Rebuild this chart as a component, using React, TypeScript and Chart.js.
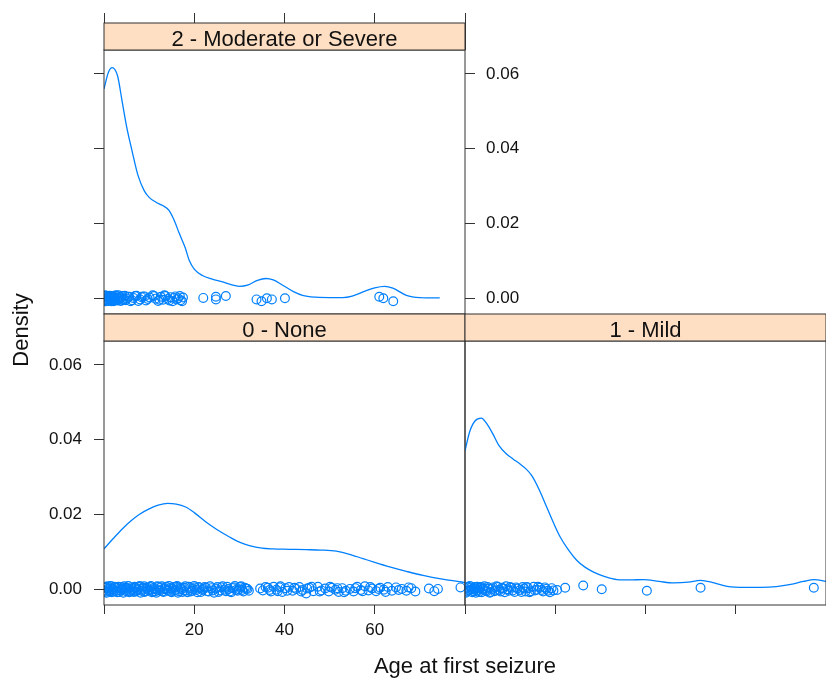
import React, { useEffect, useRef } from 'react';
import { Chart, registerables } from 'chart.js';

Chart.register(...registerables);

// ---------- data ----------
const PANEL_LABELS = ['2 - Moderate or Severe', '0 - None', '1 - Mild'];
const X_TITLE = 'Age at first seizure';
const Y_TITLE = 'Density';

const X_TICKS = [0, 20, 40, 60, 80];
const X_TICK_LABELS = ['', '20', '40', '60', ''];
const Y_TICKS = [0, 0.02, 0.04, 0.06];
const Y_TICK_LABELS = ['0.00', '0.02', '0.04', '0.06'];
const X_MIN = 0;
const X_MAX = 80;
const Y_MIN = -0.0042;
const Y_MAX = 0.0664;

// density curves [age, density]
const moderateCurve: [number, number][] = [
  [0, 0.056], [1, 0.0605], [1.8, 0.0617], [3, 0.0595], [4, 0.0528], [5, 0.046], [6.2, 0.0395],
  [7.5, 0.033], [8.9, 0.0288], [10, 0.027], [11.5, 0.0257], [13, 0.0248], [14.4, 0.0235],
  [15.5, 0.021], [16.7, 0.0173], [18, 0.0135], [18.9, 0.0101], [20, 0.0078], [21.8, 0.0061],
  [24, 0.0051], [26.3, 0.0044], [28, 0.0037], [30, 0.0032], [32, 0.0036], [34, 0.0048],
  [35.9, 0.0053], [37.5, 0.0049], [39.6, 0.0035], [42, 0.0018], [44, 0.0008], [47, 0.0003],
  [50, 0.0002], [52.9, 0.0002], [55, 0.0006], [57.4, 0.0017], [60, 0.0028], [62.2, 0.0032],
  [64, 0.0027], [67, 0.0008], [70, 0.0002], [74.4, 0.0001],
];
const noneCurve: [number, number][] = [
  [0, 0.0108], [2, 0.0135], [4.1, 0.0162], [6, 0.0183], [7.8, 0.02], [10, 0.0215], [12, 0.0225],
  [14.1, 0.023], [16, 0.0228], [18.1, 0.022], [20, 0.0205], [22.6, 0.018], [25, 0.016],
  [27.8, 0.014], [30, 0.0126], [32.2, 0.0117], [35, 0.011], [37.4, 0.0108], [41, 0.0107],
  [44.8, 0.0106], [48, 0.0105], [51.5, 0.0102], [54, 0.0095], [57.4, 0.0082], [60, 0.0072],
  [63.3, 0.006], [67, 0.0048], [70.7, 0.0037], [75, 0.0027], [80, 0.0018],
];
const mildCurve: [number, number][] = [
  [0, 0.037], [1, 0.042], [2.2, 0.045], [3.6, 0.0458], [5, 0.044], [6.2, 0.0415], [7.5, 0.0385],
  [9.2, 0.0362], [10.7, 0.0348], [12.2, 0.0335], [13.5, 0.0322], [14.8, 0.0304], [16.5, 0.0265],
  [18.1, 0.022], [19.6, 0.0178], [21.1, 0.014], [23, 0.0104], [24.8, 0.0077], [26.5, 0.006],
  [28.5, 0.0046], [31, 0.0034], [33.7, 0.0026], [36.5, 0.0025], [39.6, 0.0026], [43, 0.0021],
  [46.3, 0.0017], [49.5, 0.0019], [52.2, 0.0024], [55, 0.0018], [58.1, 0.0008], [62, 0.0005],
  [65.6, 0.0005], [69, 0.0007], [72.2, 0.0013], [75, 0.0021], [77.4, 0.0026], [80, 0.0021],
];

// observations [age, jittered height]
const moderatePoints: [number, number][] = [
  [0.1, 0.0003], [0.3, -0.0005], [0.5, 0.0007], [0.6, -0.0002], [0.8, 0.0001], [1.0, -0.0007],
  [1.1, 0.0004], [1.3, -0.0003], [1.5, 0.0006], [1.6, -0.0008], [1.8, 0.0002], [2.0, -0.0001],
  [2.2, 0.0005], [2.4, -0.0006], [2.6, 0.0008], [2.9, -0.0004], [3.1, 0.0], [3.4, 0.0003],
  [3.7, -0.0007], [4.0, 0.0006], [4.4, -0.0002], [4.8, -0.0005], [5.3, 0.0004], [5.9, -0.0008],
  [6.5, 0.0001], [7.2, 0.0007], [8.0, -0.0003], [8.6, 0.0005], [9.3, -0.0006], [10.1, 0.0002],
  [10.8, 0.0008], [11.4, -0.0001], [12.0, -0.0007], [12.6, 0.0004], [13.1, -0.0004], [13.6, 0.0006],
  [14.2, -0.0002], [14.7, 0.0003], [15.2, -0.0008], [15.8, 0.0005], [16.4, 0.0], [17.0, -0.0005],
  [17.5, 0.0002], [22.0, 0.0001], [24.8, 0.0004], [24.8, -0.0003], [27.0, 0.0006], [33.8, -0.0003],
  [34.9, -0.0008], [36.1, 0.0], [37.2, -0.0003], [40.1, 0.0], [61.0, 0.0004], [61.9, 0.0],
  [64.1, -0.0008],
  [0.2, 0.0008], [0.4, -0.0008], [0.7, 0.0004], [0.9, -0.0004], [1.2, 0.0007], [1.4, 0.0],
  [1.7, -0.0005], [1.9, 0.0004], [2.1, -0.0008], [2.3, 0.0002], [2.5, -0.0003], [2.7, 0.0006],
  [3.0, -0.0006], [3.2, 0.0008], [3.5, -0.0002], [3.8, 0.0003], [4.2, -0.0005], [4.6, 0.0007],
  [5.0, -0.0001], [5.6, 0.0004], [6.2, -0.0005], [6.9, 0.0006], [7.6, -0.0007], [8.3, 0.0003],
  [9.0, 0.0005], [9.7, -0.0002], [11.1, 0.0006], [12.3, -0.0004], [13.4, 0.0008], [14.5, -0.0006],
  [15.5, 0.0001], [16.1, -0.0003], [16.8, 0.0006], [17.3, -0.0008],
];
const nonePoints: [number, number][] = [
  [0.2, 0.0004], [0.5, -0.0006], [0.8, 0.0008], [1.1, -0.0002], [1.4, 0.0005], [1.7, -0.0008],
  [2.0, 0.0001], [2.3, 0.0007], [2.7, -0.0004], [3.0, 0.0003], [3.4, -0.0007], [3.8, 0.0006],
  [4.1, -0.0001], [4.5, 0.0008], [4.9, -0.0005], [5.2, 0.0002], [5.6, -0.0008], [6.0, 0.0005],
  [6.4, -0.0003], [6.8, 0.0007], [7.1, -0.0006], [7.5, 0.0001], [7.9, 0.0009], [8.3, -0.0004],
  [8.7, 0.0004], [9.0, -0.0007], [9.4, 0.0002], [9.8, -0.0002], [10.2, 0.0006], [10.6, -0.0008],
  [11.0, 0.0003], [11.4, -0.0005], [11.8, 0.0008], [12.2, -0.0001], [12.6, 0.0005], [13.0, -0.0006],
  [13.4, 0.0], [13.8, 0.0007], [14.2, -0.0004], [14.6, 0.0003], [15.0, -0.0008], [15.4, 0.0006],
  [15.8, -0.0002], [16.2, 0.0009], [16.6, -0.0005], [17.0, 0.0002], [17.4, -0.0007], [17.8, 0.0004],
  [18.3, -0.0003], [18.8, 0.0007], [19.2, -0.0006], [19.7, 0.0001], [20.2, 0.0005], [20.7, -0.0008],
  [21.2, 0.0003], [21.8, -0.0002], [22.3, 0.0006], [22.9, -0.0005], [23.5, 0.0008], [24.1, -0.0003],
  [24.8, 0.0002], [25.4, -0.0007], [26.0, 0.0005], [26.7, -0.0001], [27.3, 0.0007], [27.9, -0.0006],
  [28.5, 0.0003], [29.0, 0.0009], [29.6, -0.0004], [30.1, 0.0006], [30.6, -0.0002], [31.2, 0.0004],
  [31.8, 0.0001], [34.6, 0.0002], [35.2, -0.0003], [36.3, 0.0004], [37.0, -0.0006], [37.6, 0.0007],
  [38.2, -0.0001], [38.9, 0.0005], [39.5, -0.0007], [40.2, 0.0003], [41.0, 0.0006], [41.8, -0.0004],
  [42.6, 0.0001], [43.3, 0.0006], [44.0, -0.0002], [44.8, -0.0011], [45.5, 0.0004], [46.4, -0.0005],
  [47.4, 0.0007], [48.2, -0.0003], [49.0, 0.0002], [49.8, -0.0006], [50.5, 0.0004], [51.3, -0.0001],
  [52.0, -0.0007], [52.8, 0.0003], [53.6, -0.0004], [54.5, 0.0001], [55.3, -0.0006], [56.1, 0.0007],
  [56.9, -0.0002], [57.8, 0.0008], [58.6, -0.0003], [59.4, 0.0002], [60.3, -0.0005], [61.2, 0.0004],
  [62.0, -0.0001], [62.9, 0.0006], [63.8, -0.0004], [64.7, 0.0005], [66.0, 0.0001], [67.0, -0.0004],
  [68.1, 0.0003], [69.0, -0.0006], [72.0, 0.0002], [73.2, -0.0005], [74.0, 0.0001], [79.0, 0.0005],
  [0.1, -0.0003], [0.4, 0.0006], [0.6, -0.0009], [0.9, 0.0002], [1.2, -0.0005], [1.5, 0.0009],
  [1.8, -0.0001], [2.1, -0.0006], [2.5, 0.0005], [2.9, -0.0008], [3.2, 0.0007], [3.6, -0.0003],
  [3.9, 0.0002], [4.3, -0.0009], [4.7, 0.0004], [5.0, -0.0002], [5.4, 0.0009], [5.8, -0.0006],
  [6.2, 0.0001], [6.6, -0.0007], [6.9, 0.0004], [7.3, -0.0002], [7.7, 0.0006], [8.1, -0.0009],
  [8.5, 0.0001], [8.9, 0.0008], [9.2, -0.0005], [9.6, 0.0004], [10.0, -0.0003], [10.4, 0.0009],
  [10.8, -0.0006], [11.2, 0.0], [11.6, -0.0009], [12.0, 0.0006], [12.4, -0.0004], [12.8, 0.0008],
  [13.2, -0.0007], [13.6, 0.0003], [14.0, -0.0001], [14.4, 0.0009], [14.8, -0.0006], [15.2, 0.0002],
  [15.6, -0.0004], [16.0, 0.0007], [16.4, -0.0009], [16.8, 0.0005], [17.2, 0.0], [17.6, -0.0003],
  [18.0, 0.0008], [18.5, -0.0008], [19.0, 0.0003], [19.5, -0.0004], [20.0, 0.0009], [20.5, -0.0002],
  [21.0, 0.0006], [21.5, -0.0007], [22.0, 0.0001], [22.6, 0.0004], [23.2, -0.0006], [23.8, 0.0003],
  [24.4, -0.0009], [25.1, 0.0006], [25.7, -0.0003], [26.3, 0.0008], [27.0, -0.0005], [27.6, 0.0001],
  [28.2, -0.0008], [28.8, 0.0005], [29.3, -0.0002], [29.9, 0.0], [30.4, 0.0008], [30.9, -0.0006],
  [31.5, 0.0002], [32.1, -0.0004], [35.8, 0.0006], [36.7, -0.0002], [38.5, -0.0005], [39.1, 0.0008],
  [40.6, -0.0004], [42.2, 0.0004], [43.7, -0.0006], [45.0, 0.0002], [46.0, 0.0007], [47.8, -0.0006],
  [50.1, 0.0007], [51.7, 0.0003], [53.2, -0.0008], [55.7, 0.0003], [57.3, -0.0005], [59.0, 0.0006],
  [60.8, 0.0001], [62.4, -0.0007], [65.3, -0.0002], [67.5, 0.0005],
];
const mildPoints: [number, number][] = [
  [0.1, 0.0003], [0.4, -0.0006], [0.7, 0.0007], [1.0, -0.0002], [1.3, 0.0005], [1.6, -0.0008],
  [1.9, 0.0001], [2.2, 0.0006], [2.5, -0.0004], [2.8, 0.0003], [3.1, -0.0007], [3.5, 0.0006],
  [3.9, -0.0001], [4.3, 0.0008], [4.7, -0.0005], [5.2, 0.0002], [5.7, -0.0007], [6.2, 0.0005],
  [6.8, -0.0003], [7.3, 0.0006], [7.9, -0.0006], [8.5, 0.0002], [9.1, 0.0008], [9.7, -0.0004],
  [10.3, 0.0004], [11.0, -0.0007], [11.6, 0.0002], [12.2, -0.0002], [12.8, 0.0006], [13.4, -0.0006],
  [14.0, 0.0003], [14.6, -0.0005], [15.2, 0.0007], [15.9, -0.0001], [16.6, 0.0004], [17.3, -0.0006],
  [18.0, 0.0001], [18.8, -0.0008], [19.6, -0.0003], [20.4, -0.0002], [22.2, 0.0004], [26.2, 0.001],
  [30.3, 0.0], [40.3, -0.0004], [52.2, 0.0004], [77.3, 0.0004],
  [0.2, -0.0009], [0.5, 0.0005], [0.8, -0.0003], [1.1, 0.0009], [1.5, 0.0], [1.8, -0.0005],
  [2.1, 0.0003], [2.4, -0.0009], [2.7, 0.0007], [3.0, -0.0002], [3.3, 0.0004], [3.7, -0.0008],
  [4.1, 0.0002], [4.5, -0.0003], [5.0, 0.0006], [5.5, -0.0009], [6.0, 0.0001], [6.5, -0.0005],
  [7.0, 0.0008], [7.6, -0.0002], [8.2, 0.0004], [8.8, -0.0008], [9.4, 0.0], [10.0, 0.0006],
  [10.6, -0.0003], [11.3, 0.0005], [12.5, -0.0007], [13.1, 0.0002], [13.7, 0.0006], [14.3, -0.0008],
  [15.5, -0.0003], [16.2, 0.0007], [17.0, -0.0002], [17.7, 0.0005], [18.4, -0.0004], [19.2, 0.0003],
];

// ---------- styling ----------
const BLUE = '#0080ff';
const AXIS_COLOR = '#333333';
const TEXT_COLOR = '#111111';
const STRIP_BG = '#fedfc3';
const FONT = '"Liberation Sans", Arial, Helvetica, sans-serif';
const W = 826;
const H = 678;
const STRIP_H = 27;

const panelDecor = {
  id: 'panelDecor',
  afterDraw(chart: any, _args: any, opts: any) {
    const { ctx, chartArea: a } = chart;
    ctx.save();
    ctx.strokeStyle = AXIS_COLOR;
    ctx.lineWidth = 1;
    ctx.strokeRect(a.left, a.top, a.right - a.left, a.bottom - a.top);
    ctx.fillStyle = STRIP_BG;
    ctx.fillRect(a.left, a.top - STRIP_H, a.right - a.left, STRIP_H);
    ctx.strokeRect(a.left, a.top - STRIP_H, a.right - a.left, STRIP_H);
    ctx.fillStyle = TEXT_COLOR;
    ctx.font = `22px ${FONT}`;
    ctx.textAlign = 'center';
    ctx.textBaseline = 'alphabetic';
    ctx.fillText(opts.label, (a.left + a.right) / 2, a.top - 4);
    if (opts.titles) {
      ctx.fillText(X_TITLE, 465, 673);
      ctx.translate(28, 330);
      ctx.rotate(-Math.PI / 2);
      ctx.fillText(Y_TITLE, 0, 0);
    }
    ctx.restore();
  },
};

function makeX(position: string, showLabels: boolean, tickLen: number, size: number, display = true) {
  return {
    type: 'linear',
    position,
    display,
    min: X_MIN,
    max: X_MAX,
    afterBuildTicks: (s: any) => {
      s.ticks = X_TICKS.map((v) => ({ value: v }));
    },
    afterFit: (s: any) => {
      s.height = size;
      s.paddingLeft = 0;
      s.paddingRight = 0;
    },
    border: { display: false },
    grid: { display: true, drawOnChartArea: false, drawTicks: true, tickLength: tickLen, color: AXIS_COLOR, lineWidth: 1 },
    ticks: {
      display: showLabels,
      padding: 6,
      maxRotation: 0,
      autoSkip: false,
      color: TEXT_COLOR,
      font: { family: FONT, size: 17 },
      callback: (_v: any, i: number) => X_TICK_LABELS[i] ?? '',
    },
  };
}

function makeY(position: string, showLabels: boolean, tickLen: number, size: number, pad: number, display = true) {
  return {
    type: 'linear',
    position,
    display,
    min: Y_MIN,
    max: Y_MAX,
    afterBuildTicks: (s: any) => {
      s.ticks = Y_TICKS.map((v) => ({ value: v }));
    },
    afterFit: (s: any) => {
      s.width = size;
      s.paddingTop = 0;
      s.paddingBottom = 0;
    },
    border: { display: false },
    grid: { display: true, drawOnChartArea: false, drawTicks: true, tickLength: tickLen, color: AXIS_COLOR, lineWidth: 1 },
    ticks: {
      display: showLabels,
      padding: pad,
      autoSkip: false,
      color: TEXT_COLOR,
      font: { family: FONT, size: 17 },
      callback: (_v: any, i: number) => Y_TICK_LABELS[i] ?? '',
    },
  };
}

function datasets(curve: [number, number][], pts: [number, number][]) {
  return [
    {
      data: curve.map(([x, y]) => ({ x, y })),
      showLine: true,
      borderColor: BLUE,
      borderWidth: 1.3,
      pointRadius: 0,
      cubicInterpolationMode: 'monotone',
      fill: false,
    },
    {
      data: pts.map(([x, y]) => ({ x, y })),
      showLine: false,
      pointStyle: 'circle',
      pointRadius: 4.4,
      pointBorderWidth: 1.2,
      pointBorderColor: BLUE,
      pointBackgroundColor: 'rgba(0,0,0,0)',
    },
  ];
}

function makeConfig(kind: number): any {
  let scales: any;
  let padding: any;
  let data: any;
  const label = PANEL_LABELS[kind];
  let titles = false;
  if (kind === 0) {
    scales = {
      x: makeX('bottom', false, 0, 0, false),
      xTop: makeX('top', false, 37, 37),
      y: makeY('left', false, 10, 10, 12),
      yR: makeY('right', true, 10, 60, 11),
    };
    padding = { left: 94, right: 301, top: 13, bottom: 364 };
    data = datasets(moderateCurve, moderatePoints);
  } else if (kind === 1) {
    scales = {
      x: makeX('bottom', true, 9, 40),
      y: makeY('left', true, 10, 60, 12),
    };
    padding = { left: 44, right: 361, top: 341, bottom: 33 };
    data = datasets(noneCurve, nonePoints);
    titles = true;
  } else {
    scales = {
      x: makeX('bottom', false, 9, 40),
      y: makeY('left', false, 0, 0, 0, false),
    };
    padding = { left: 465, right: 0, top: 341, bottom: 33 };
    data = datasets(mildCurve, mildPoints);
  }
  return {
    type: 'scatter',
    data: { datasets: data },
    options: {
      animation: false,
      responsive: false,
      devicePixelRatio: 1,
      events: [],
      layout: { padding, autoPadding: false },
      scales,
      plugins: {
        legend: { display: false },
        tooltip: { enabled: false },
        title: { display: false },
        panelDecor: { label, titles },
      },
    },
    plugins: [panelDecor],
  };
}

function Panel({ kind }: { kind: number }) {
  const ref = useRef<HTMLCanvasElement>(null);
  useEffect(() => {
    const chart = new Chart(ref.current as HTMLCanvasElement, makeConfig(kind));
    return () => chart.destroy();
  }, [kind]);
  return (
    <canvas
      ref={ref}
      width={W}
      height={H}
      style={{ position: 'absolute', left: 0, top: 0, width: W, height: H }}
    />
  );
}

export default function App() {
  return (
    <div style={{ position: 'absolute', left: 0, top: 0, width: W, height: H, background: '#fff', overflow: 'hidden' }}>
      <Panel kind={0} />
      <Panel kind={1} />
      <Panel kind={2} />
    </div>
  );
}
